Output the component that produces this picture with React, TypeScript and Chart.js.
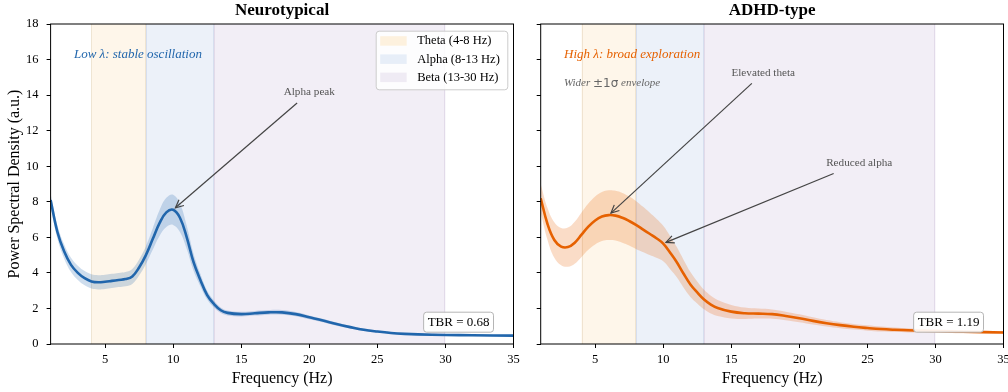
import React, { useEffect, useRef } from 'react';
import { Chart, registerables } from 'chart.js';

Chart.register(...registerables);

// ---------------- data ----------------
const FREQ = [1, 1.5, 2, 2.5, 3, 3.5, 4, 4.5, 5, 5.5, 6, 6.5, 7, 7.5, 8, 8.5, 9, 9.5, 10, 10.5, 11, 11.5, 12, 12.5, 13, 13.5, 14, 15, 16, 17, 18, 19, 20, 21, 22, 23, 24, 25, 26, 27, 28, 30, 32, 35];

const NT_MEAN = [8.1, 6.3, 5.2, 4.45, 4.0, 3.7, 3.52, 3.47, 3.5, 3.55, 3.6, 3.65, 3.8, 4.3, 5.0, 5.9, 6.8, 7.4, 7.55, 7.1, 6.0, 4.6, 3.6, 2.75, 2.25, 1.9, 1.75, 1.68, 1.73, 1.78, 1.78, 1.68, 1.5, 1.32, 1.12, 0.95, 0.8, 0.7, 0.62, 0.57, 0.54, 0.51, 0.49, 0.47];
const NT_SD = [0.35, 0.38, 0.4, 0.4, 0.4, 0.4, 0.4, 0.4, 0.4, 0.4, 0.4, 0.4, 0.42, 0.45, 0.5, 0.6, 0.72, 0.82, 0.85, 0.8, 0.65, 0.48, 0.35, 0.25, 0.2, 0.16, 0.14, 0.13, 0.13, 0.13, 0.13, 0.12, 0.11, 0.1, 0.09, 0.08, 0.07, 0.06, 0.06, 0.05, 0.05, 0.05, 0.05, 0.05];

const AD_MEAN = [8.2, 6.75, 5.85, 5.48, 5.45, 5.7, 6.15, 6.6, 6.95, 7.17, 7.25, 7.22, 7.1, 6.92, 6.7, 6.45, 6.2, 5.95, 5.65, 5.15, 4.6, 3.95, 3.35, 2.9, 2.5, 2.22, 2.03, 1.82, 1.73, 1.71, 1.68, 1.58, 1.45, 1.3, 1.17, 1.06, 0.97, 0.9, 0.84, 0.8, 0.77, 0.73, 0.69, 0.65];
const AD_SD = [0.8, 0.9, 1.0, 1.05, 1.1, 1.18, 1.25, 1.3, 1.35, 1.38, 1.4, 1.4, 1.4, 1.38, 1.35, 1.28, 1.2, 1.1, 1.0, 0.93, 0.85, 0.78, 0.7, 0.62, 0.55, 0.5, 0.45, 0.38, 0.32, 0.28, 0.26, 0.24, 0.22, 0.2, 0.18, 0.17, 0.16, 0.15, 0.14, 0.13, 0.12, 0.1, 0.09, 0.08];

const X_TICKS = [5, 10, 15, 20, 25, 30, 35];
const Y_TICKS = [0, 2, 4, 6, 8, 10, 12, 14, 16, 18];

const BAND_NAMES = ['Theta (4-8 Hz)', 'Alpha (8-13 Hz)', 'Beta (13-30 Hz)'];
const BAND_LO = [4, 8, 13];
const BAND_HI = [8, 13, 30];

const TITLES = ['Neurotypical', 'ADHD-type'];
const TBR = [0.68, 1.19];

// annotations: [text, textX, textY, targetX, targetY]
const NT_ANNOTS: [string, number, number, number, number][] = [['Alpha peak', 20, 14.15, 10, 7.55]];
const AD_ANNOTS: [string, number, number, number, number][] = [
  ['Elevated theta', 17.35, 15.25, 6, 7.25],
  ['Reduced alpha', 24.4, 10.18, 10, 5.65],
];

// ---------------- styling ----------------
const SERIF = "'Liberation Serif', 'Times New Roman', Times, serif";
const BAND_FILL = ['#fef6ea', '#ecf1f9', '#f2eef6'];
const BAND_EDGE = ['rgba(230,215,190,0.6)', 'rgba(200,210,230,0.6)', 'rgba(215,205,225,0.6)'];
const LEG_FILL = ['#fdf1de', '#e7eef8', '#efebf4'];

type Annot = [string, number, number, number, number];

interface Panel {
  title: string;
  mean: number[];
  sd: number[];
  color: string;
  envelope: string;
  showYLabels: boolean;
  yAxisWidth: number;
  padRight: number;
  label1: string;
  label1Color: string;
  showSubLabel: boolean;
  showLegend: boolean;
  annots: Annot[];
  tbr: number;
}

function roundRect(ctx: CanvasRenderingContext2D, x: number, y: number, w: number, h: number, r: number) {
  ctx.beginPath();
  ctx.moveTo(x + r, y);
  ctx.lineTo(x + w - r, y);
  ctx.arcTo(x + w, y, x + w, y + r, r);
  ctx.lineTo(x + w, y + h - r);
  ctx.arcTo(x + w, y + h, x + w - r, y + h, r);
  ctx.lineTo(x + r, y + h);
  ctx.arcTo(x, y + h, x, y + h - r, r);
  ctx.lineTo(x, y + r);
  ctx.arcTo(x, y, x + r, y, r);
  ctx.closePath();
}

function drawArrow(ctx: CanvasRenderingContext2D, cx: number, cy: number, hw: number, hh: number, ex: number, ey: number) {
  const dx = ex - cx;
  const dy = ey - cy;
  const len = Math.hypot(dx, dy);
  const t = Math.min(hw / Math.abs(dx || 1e-6), hh / Math.abs(dy || 1e-6));
  const sx = cx + dx * t;
  const sy = cy + dy * t;
  const ux = dx / len;
  const uy = dy / len;
  const tx = ex - ux * 3;
  const ty = ey - uy * 3;
  ctx.save();
  ctx.strokeStyle = '#444';
  ctx.lineWidth = 1.2;
  ctx.beginPath();
  ctx.moveTo(sx, sy);
  ctx.lineTo(tx, ty);
  ctx.stroke();
  const hl = 8;
  const hwid = 3.8;
  const bx = tx - ux * hl;
  const by = ty - uy * hl;
  ctx.beginPath();
  ctx.moveTo(bx - uy * hwid, by + ux * hwid);
  ctx.lineTo(tx, ty);
  ctx.lineTo(bx + uy * hwid, by - ux * hwid);
  ctx.stroke();
  ctx.restore();
}

function buildConfig(p: Panel): any {
  const meanPts = FREQ.map((f, i) => ({ x: f, y: p.mean[i] }));
  const upPts = FREQ.map((f, i) => ({ x: f, y: p.mean[i] + p.sd[i] }));
  const loPts = FREQ.map((f, i) => ({ x: f, y: p.mean[i] - p.sd[i] }));

  const decor = {
    id: 'decor',
    beforeDatasetsDraw(chart: any) {
      const { ctx, chartArea: a, scales } = chart;
      const xs = scales.x;
      ctx.save();
      for (let i = 0; i < BAND_LO.length; i++) {
        const x0 = xs.getPixelForValue(BAND_LO[i]);
        const x1 = xs.getPixelForValue(BAND_HI[i]);
        ctx.fillStyle = BAND_FILL[i];
        ctx.fillRect(x0, a.top, x1 - x0, a.bottom - a.top);
      }
      for (let i = 0; i < BAND_LO.length; i++) {
        const x0 = xs.getPixelForValue(BAND_LO[i]);
        const x1 = xs.getPixelForValue(BAND_HI[i]);
        ctx.strokeStyle = BAND_EDGE[i];
        ctx.lineWidth = 1;
        ctx.beginPath();
        ctx.moveTo(Math.round(x0) + 0.5, a.top);
        ctx.lineTo(Math.round(x0) + 0.5, a.bottom);
        ctx.moveTo(Math.round(x1) - 0.5, a.top);
        ctx.lineTo(Math.round(x1) - 0.5, a.bottom);
        ctx.stroke();
      }
      ctx.restore();
    },
    afterDatasetsDraw(chart: any) {
      const { ctx, chartArea: a, scales } = chart;
      const xs = scales.x;
      const ys = scales.y;
      ctx.save();
      // frame
      ctx.strokeStyle = '#000';
      ctx.lineWidth = 1;
      ctx.strokeRect(a.left, a.top, a.right - a.left, a.bottom - a.top);

      // title
      ctx.fillStyle = '#000';
      ctx.font = `bold 17px ${SERIF}`;
      ctx.textAlign = 'center';
      ctx.textBaseline = 'middle';
      ctx.fillText(p.title, (a.left + a.right) / 2, 11);

      // italic labels
      ctx.textAlign = 'left';
      ctx.font = `italic 13px ${SERIF}`;
      ctx.fillStyle = p.label1Color;
      ctx.fillText(p.label1, a.left + 23.3, 55);
      if (p.showSubLabel) {
        let x = a.left + 23.3;
        const y = 83.5;
        ctx.fillStyle = '#666';
        ctx.font = `italic 11px ${SERIF}`;
        ctx.fillText('Wider ', x, y);
        x += ctx.measureText('Wider ').width;
        ctx.font = `12px 'DejaVu Sans', sans-serif`;
        ctx.fillText('±1σ', x, y);
        x += ctx.measureText('±1σ').width;
        ctx.font = `italic 11px ${SERIF}`;
        ctx.fillText(' envelope', x, y);
      }

      // annotations
      for (const [txt, tx, ty, px, py] of p.annots) {
        const cx = xs.getPixelForValue(tx);
        const cy = ys.getPixelForValue(ty);
        ctx.font = `11.2px ${SERIF}`;
        ctx.fillStyle = '#555';
        ctx.textAlign = 'center';
        ctx.textBaseline = 'middle';
        ctx.fillText(txt, cx, cy);
        const w = ctx.measureText(txt).width;
        drawArrow(ctx, cx, cy, w / 2 + 3, 10.5, xs.getPixelForValue(px), ys.getPixelForValue(py));
      }

      // legend
      if (p.showLegend) {
        const lx = a.right - 137.8;
        const ly = a.top + 6.7;
        const lw = 131.6;
        const lh = 58.6;
        ctx.fillStyle = 'rgba(255,255,255,0.85)';
        ctx.strokeStyle = '#cccccc';
        ctx.lineWidth = 1;
        roundRect(ctx, lx + 0.5, ly + 0.5, lw, lh, 3);
        ctx.fill();
        ctx.stroke();
        ctx.font = `12.5px ${SERIF}`;
        ctx.textAlign = 'left';
        ctx.textBaseline = 'middle';
        for (let i = 0; i < BAND_NAMES.length; i++) {
          const ry = ly + 10.5 + i * 18.2;
          ctx.fillStyle = LEG_FILL[i];
          ctx.fillRect(lx + 4.5, ry - 5, 26.5, 9.5);
          ctx.fillStyle = '#000';
          ctx.fillText(BAND_NAMES[i], lx + 41.5, ry);
        }
      }

      // TBR box
      const s = `TBR = ${p.tbr.toFixed(2)}`;
      ctx.font = `13px ${SERIF}`;
      const tw = ctx.measureText(s).width;
      const bw = tw + 8;
      const bh = 20;
      const bx = a.right - 20.5 - bw;
      const by = a.bottom - 12.3 - bh;
      ctx.fillStyle = 'rgba(255,255,255,0.9)';
      ctx.strokeStyle = '#b5b5b5';
      roundRect(ctx, bx + 0.5, by + 0.5, bw, bh, 3);
      ctx.fill();
      ctx.stroke();
      ctx.fillStyle = '#000';
      ctx.textAlign = 'center';
      ctx.textBaseline = 'middle';
      ctx.fillText(s, bx + bw / 2 + 0.5, by + bh / 2 + 1);
      ctx.restore();
    },
  };

  const smooth = { tension: 0.4, cubicInterpolationMode: 'default' };

  return {
    type: 'line',
    data: {
      datasets: [
        {
          label: 'mean',
          data: meanPts,
          borderColor: p.color,
          borderWidth: 2.6,
          pointRadius: 0,
          fill: false,
          ...smooth,
        },
        {
          label: 'upper',
          data: upPts,
          borderColor: 'rgba(0,0,0,0)',
          borderWidth: 1,
          pointRadius: 0,
          backgroundColor: p.envelope,
          fill: '+1',
          ...smooth,
        },
        {
          label: 'lower',
          data: loPts,
          borderColor: 'rgba(0,0,0,0)',
          borderWidth: 1,
          pointRadius: 0,
          fill: false,
          ...smooth,
        },
      ],
    },
    options: {
      animation: false,
      responsive: false,
      devicePixelRatio: 1,
      events: [],
      layout: { padding: { left: 0, top: 24, right: p.padRight, bottom: 0 } },
      plugins: {
        legend: { display: false },
        tooltip: { enabled: false },
        title: { display: false },
      },
      scales: {
        x: {
          type: 'linear',
          min: 1,
          max: 35,
          afterBuildTicks: (s: any) => {
            s.ticks = X_TICKS.map((v) => ({ value: v }));
          },
          afterFit: (s: any) => {
            s.height = 48;
            s.paddingLeft = 0;
            s.paddingRight = 0;
          },
          ticks: {
            font: { family: SERIF, size: 12.5 },
            color: '#000',
            padding: 4,
            maxRotation: 0,
            autoSkip: false,
          },
          grid: {
            display: true,
            drawOnChartArea: false,
            drawTicks: true,
            tickLength: 4,
            tickColor: '#000',
            tickWidth: 1,
          },
          border: { display: false },
          title: {
            display: true,
            text: 'Frequency (Hz)',
            color: '#000',
            font: { family: SERIF, size: 16 },
            padding: { top: 0, bottom: 4 },
          },
        },
        y: {
          type: 'linear',
          min: 0,
          max: 18,
          afterBuildTicks: (s: any) => {
            s.ticks = Y_TICKS.map((v) => ({ value: v }));
          },
          afterFit: (s: any) => {
            s.width = p.yAxisWidth;
            s.paddingTop = 0;
            s.paddingBottom = 0;
          },
          ticks: {
            font: { family: SERIF, size: 12.5 },
            color: '#000',
            padding: 8,
            callback: (v: any) => (p.showYLabels ? String(v) : ''),
          },
          grid: {
            display: true,
            drawOnChartArea: false,
            drawTicks: true,
            tickLength: 4,
            tickColor: '#000',
            tickWidth: 1,
          },
          border: { display: false },
          title: {
            display: p.showYLabels,
            text: 'Power Spectral Density (a.u.)',
            color: '#000',
            font: { family: SERIF, size: 16 },
            padding: { top: 5.4, bottom: 0 },
          },
        },
      },
    },
    plugins: [decor],
  };
}

const PANELS: Panel[] = [
  {
    title: TITLES[0],
    mean: NT_MEAN,
    sd: NT_SD,
    color: '#2166ac',
    envelope: 'rgba(33,102,172,0.22)',
    showYLabels: true,
    yAxisWidth: 50.6,
    padRight: 6.5,
    label1: 'Low λ: stable oscillation',
    label1Color: '#2166ac',
    showSubLabel: false,
    showLegend: true,
    annots: NT_ANNOTS,
    tbr: TBR[0],
  },
  {
    title: TITLES[1],
    mean: AD_MEAN,
    sd: AD_SD,
    color: '#e66101',
    envelope: 'rgba(230,97,1,0.22)',
    showYLabels: false,
    yAxisWidth: 20.7,
    padRight: 4.5,
    label1: 'High λ: broad exploration',
    label1Color: '#e66101',
    showSubLabel: true,
    showLegend: false,
    annots: AD_ANNOTS,
    tbr: TBR[1],
  },
];

export default function App() {
  const ref1 = useRef<HTMLCanvasElement>(null);
  const ref2 = useRef<HTMLCanvasElement>(null);
  useEffect(() => {
    const c1 = new Chart(ref1.current as HTMLCanvasElement, buildConfig(PANELS[0]));
    const c2 = new Chart(ref2.current as HTMLCanvasElement, buildConfig(PANELS[1]));
    return () => {
      c1.destroy();
      c2.destroy();
    };
  }, []);
  return (
    <div style={{ position: 'fixed', left: 0, top: 0, width: 1008, height: 392, background: '#fff', overflow: 'hidden' }}>
      <canvas ref={ref1} width={520} height={392} style={{ position: 'absolute', left: 0, top: 0, width: 520, height: 392 }} />
      <canvas ref={ref2} width={488} height={392} style={{ position: 'absolute', left: 520, top: 0, width: 488, height: 392 }} />
    </div>
  );
}
